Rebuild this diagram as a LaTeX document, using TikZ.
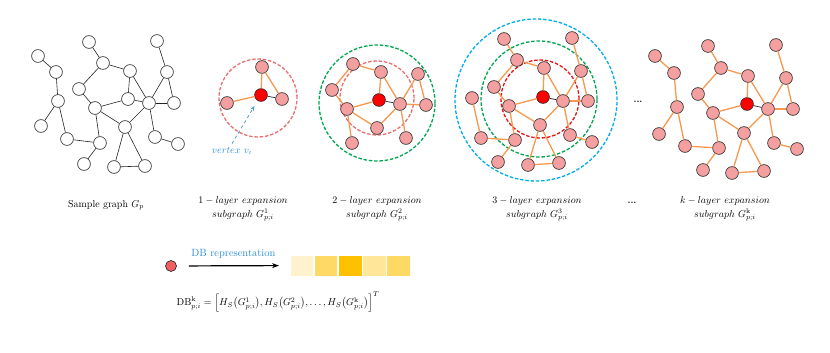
\documentclass[tikz,border=0pt]{standalone}
\usepackage{xcolor}
\usepackage{tikz}
\usetikzlibrary{arrows.meta,positioning}
\definecolor{ink}{RGB}{35,35,35}
\definecolor{vtxfill}{RGB}{244,160,160}
\definecolor{rootfill}{RGB}{255,0,0}
\definecolor{edgeorange}{RGB}{247,152,78}
\definecolor{ringpink}{RGB}{236,110,110}
\definecolor{ringgreen}{RGB}{0,166,80}
\definecolor{ringred}{RGB}{232,20,20}
\definecolor{ringblue}{RGB}{0,172,236}
\definecolor{lblblue}{RGB}{46,140,215}
\definecolor{dbA}{RGB}{255,242,204}
\definecolor{dbB}{RGB}{255,217,102}
\definecolor{dbC}{RGB}{255,192,0}
\definecolor{dbD}{RGB}{255,230,153}
\definecolor{dotred}{RGB}{240,96,96}
\tikzset{
  vtx/.style={
    circle, draw=ink, fill=#1, line width=0.6pt,
    minimum size=12.8pt, inner sep=0pt,
  },
  vtx/.default=vtxfill,
  plain/.style={line width=0.6pt, draw=ink},
  link/.style={line width=1.3pt, draw=edgeorange},
  rootlink/.style={line width=0.7pt, draw=ink},
  ring/.style={
    circle, draw=#1, line width=1.3pt, dash pattern=on 3.5pt off 1.8pt,
    inner sep=0pt,
  },
  caption/.style={align=center, font=\fontsize{10}{13.5}\selectfont},
  cell/.style={
    fill=#1, draw=white, line width=0.8pt,
    minimum width=23.3pt, minimum height=21pt, inner sep=0pt,
  },
  dbarr/.style={-{Stealth[length=7pt,width=5pt]}, line width=1.2pt, draw=black},
  vtxarr/.style={-{Stealth[length=5pt,width=4pt]}, dashed, line width=0.8pt, draw=lblblue!85},
}

\begin{document}
\begin{tikzpicture}[x=1pt,y=-1pt]
  \useasboundingbox (0,0) rectangle (830,353);

  % sample graph
  \foreach \n/\x/\y in {A/38/56, B/56/72, C/58/101, D/41/126, E/67/139,
      F/100/143, G/84/164, H/89/42, I/103/63, J/79/89, K/95/108, L/130/71,
      M/128/99, N/149/103, O/157/41, P/167/72, Q/174/103, R/125/127,
      S/155/137, T/178/144, U/114/167, V/145/166}
    \node[vtx=white] (s\n) at (\x,\y) {};
  \foreach \a/\b in {A/B, B/C, C/D, C/E, E/F, F/G, F/K, K/J, J/I, I/H, I/L,
      L/M, L/N, K/M, M/N, K/R, R/N, N/P, P/O, P/Q, N/Q, N/S, S/T, R/U, R/V, U/V}
    \draw[plain] (s\a) -- (s\b);
  \node[caption] (capS) at (106,205) {Sample graph $G_p$};

  % 1-layer
  \node[ring=ringpink, minimum size=78pt] (ringA1) at (258,98) {};
  \node[vtx=rootfill] (aM) at (261,95) {};
  \foreach \n/\x/\y in {L/262/67, N/282/99, K/227/103}
    \node[vtx] (a\n) at (\x,\y) {};
  \foreach \a/\b in {L/M, L/N, K/M}
    \draw[link] (a\a) -- (a\b);
  \draw[rootlink] (aM) -- (aN);
  \node[font=\fontsize{10}{12}\selectfont, text=lblblue] (vlbl) at (232,151) {$vertex\ v_i$};
  \draw[vtxarr, shorten >=6pt] (vlbl.north) -- (aM);
  \node[caption] (capA) at (243,209) {$1-layer\ expansion$\\$subgraph\ G^{1}_{p;i}$};

  % 2-layer
  \node[ring=ringgreen, minimum size=116pt] (ringB2) at (377,103) {};
  \node[ring=ringpink, minimum size=74pt] (ringB1) at (377,98) {};
  \node[vtx=rootfill] (bM) at (379,100) {};
  \foreach \n/\x/\y in {I/353/64, L/381/72, P/418/74, J/332/90, N/400/104,
      Q/426/105, K/347/109, R/377/128, S/406/138, F/352/143}
    \node[vtx] (b\n) at (\x,\y) {};
  \foreach \a/\b in {I/L, I/J, J/K, K/M, L/M, L/N, N/P, P/Q, N/Q, K/R, R/N, K/F, N/S}
    \draw[link] (b\a) -- (b\b);
  \draw[rootlink] (bM) -- (bN);
  \node[caption] (capB) at (377,209) {$2-layer\ expansion$\\$subgraph\ G^{2}_{p;i}$};

  % 3-layer
  \node[ring=ringblue, minimum size=162pt] (ringC3) at (536,100) {};
  \node[ring=ringgreen, minimum size=116pt] (ringC2) at (539,99) {};
  \node[ring=ringred, minimum size=78pt] (ringC1) at (540,99) {};
  \node[vtx=rootfill] (cM) at (543,97) {};
  \foreach \n/\x/\y in {H/504/39, O/572/38, I/517/60, L/544/68, P/581/71,
      J/494/87, C/472/98, N/563/101, Q/588/101, K/509/106, R/540/125,
      S/570/135, E/481/138, F/515/140, T/592/142, G/498/162, U/528/165, V/559/163}
    \node[vtx] (c\n) at (\x,\y) {};
  \foreach \a/\b in {H/I, I/L, I/J, J/K, K/M, L/M, L/N, N/P, P/O, P/Q, N/Q,
      N/S, S/T, K/R, R/N, K/F, F/E, E/C, F/G, R/U, R/V, U/V}
    \draw[link] (c\a) -- (c\b);
  \draw[rootlink] (cM) -- (cN);
  \node[caption] (capC) at (537,209) {$3-layer\ expansion$\\$subgraph\ G^{3}_{p;i}$};

  \node[font=\fontsize{9}{10}\selectfont\bfseries] (dotsG) at (638,102) {...};
  \node[font=\fontsize{9}{10}\selectfont\bfseries] (dotsT) at (632,203) {...};

  % k-layer
  \node[vtx=rootfill] (kM) at (747,104) {};
  \foreach \n/\x/\y in {A/655/56, B/674/73, C/677/107, D/659/134, E/685/146,
      F/719/148, G/703/170, H/708/46, I/721/68, J/698/94, K/713/113, L/748/76,
      N/768/109, O/776/45, P/786/78, Q/793/109, R/744/133, S/774/143,
      T/797/149, U/732/173, V/764/171}
    \node[vtx] (k\n) at (\x,\y) {};
  \foreach \a/\b in {A/B, B/C, C/D, C/E, E/F, F/G, F/K, K/J, J/I, I/H, I/L,
      L/M, L/N, K/M, K/R, R/N, N/P, P/O, P/Q, N/Q, N/S, S/T, R/U, R/V, U/V}
    \draw[link] (k\a) -- (k\b);
  \draw[rootlink] (kM) -- (kN);
  \node[caption] (capK) at (725,209) {$k-layer\ expansion$\\$subgraph\ G^{\mathrm{k}}_{p;i}$};

  % DB representation
  \node[circle, draw=ink, fill=dotred, line width=0.6pt, minimum size=11pt, inner sep=0pt] (dbdot) at (171,266) {};
  \node[cell=dbA, anchor=west] (bar1) at (290,265.5) {};
  \node[cell=dbB, right=0pt of bar1] (bar2) {};
  \node[cell=dbC, right=0pt of bar2] (bar3) {};
  \node[cell=dbD, right=0pt of bar3] (bar4) {};
  \node[cell=dbB, right=0pt of bar4] (bar5) {};
  \draw[dbarr, shorten <=12pt, shorten >=11pt] (dbdot) -- (bar1)
    node[midway, above=3pt, font=\fontsize{10.5}{12}\selectfont, text=lblblue] (dblbl) {DB representation};
  \node[font=\fontsize{10}{12}\selectfont] (dbform) at (278,302) {%
    $\mathrm{DB}^{\mathrm{k}}_{p;i}=\Bigl[H_S\bigl(G^{1}_{p;i}\bigr),H_S\bigl(G^{2}_{p;i}\bigr),\ldots,H_S\bigl(G^{\mathrm{k}}_{p;i}\bigr)\Bigr]^{T}$};
\end{tikzpicture}
\end{document}
